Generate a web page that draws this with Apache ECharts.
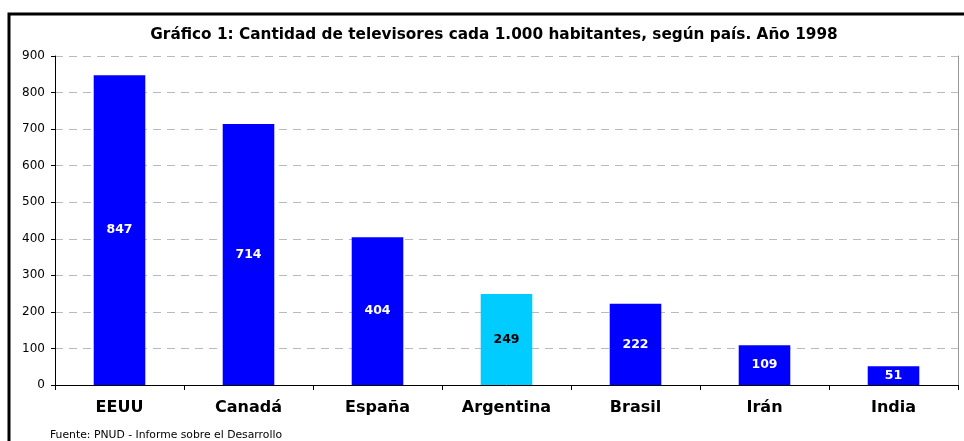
<!DOCTYPE html>
<html><head><meta charset="utf-8">
<script src="https://cdn.jsdelivr.net/npm/echarts@6/dist/echarts.min.js"></script>
<style>html,body{margin:0;padding:0;background:#fff}#c{width:964px;height:441px}</style>
</head><body><div id="c"></div>
<script>
const categories = ['EEUU','Canadá','España','Argentina','Brasil','Irán','India'];
const values = [847,714,404,249,222,109,51];
const highlight = 'Argentina';
const yTicks = [0,100,200,300,400,500,600,700,800,900];
const titleText = 'Gráfico 1: Cantidad de televisores cada 1.000 habitantes, según país. Año 1998';
const sourceText = 'Fuente: PNUD - Informe sobre el Desarrollo';

const chart = echarts.init(document.getElementById('c'), null, {renderer:'canvas'});
const F = '"DejaVu Sans", Verdana, sans-serif';
chart.setOption({
  animation:false,
  title:{text:titleText,left:489,top:23,textAlign:'center',
    textStyle:{fontFamily:F,fontSize:15.3,fontWeight:'bold',color:'#000'}},
  grid:{left:55,right:6,top:56,bottom:56,show:false},
  xAxis:{type:'category',data:categories,
    axisLine:{lineStyle:{color:'#000',width:1}},
    axisTick:{show:true,length:5,lineStyle:{color:'#000'},alignWithLabel:false},
    axisLabel:{fontFamily:F,fontSize:16,fontWeight:'bold',color:'#000',margin:15}},
  yAxis:[{type:'value',min:yTicks[0],max:yTicks[yTicks.length-1],interval:100,
    axisLine:{show:true,lineStyle:{color:'#000',width:1}},
    axisTick:{show:true,length:4,lineStyle:{color:'#000'}},
    axisLabel:{fontFamily:F,fontSize:12,color:'#000',margin:10},
    splitLine:{show:true,lineStyle:{color:'#bbb',type:[8,6],width:1}}},
    {type:'value',position:'right',min:yTicks[0],max:yTicks[yTicks.length-1],interval:100,
    axisLine:{show:true,lineStyle:{color:'#999',width:1}},
    axisTick:{show:false},axisLabel:{show:false},splitLine:{show:false}}],
  series:[{type:'bar',barWidth:'40%',
    data:values.map((v,i)=>({value:v,
      itemStyle:{color:categories[i]===highlight?'#00CCFF':'#0000FF'},
      label:{color:categories[i]===highlight?'#000':'#fff'}})),
    label:{show:true,position:'inside',fontFamily:F,fontSize:12.5,fontWeight:'bold'}}],
  graphic:[
    {type:'rect',shape:{x:9,y:14,width:1000,height:500},style:{fill:'none',stroke:'#000',lineWidth:3},z:100},
    {type:'text',left:50,top:430,style:{text:sourceText,font:'10.8px '+F,fill:'#000'}}
  ]
});
</script></body></html>
